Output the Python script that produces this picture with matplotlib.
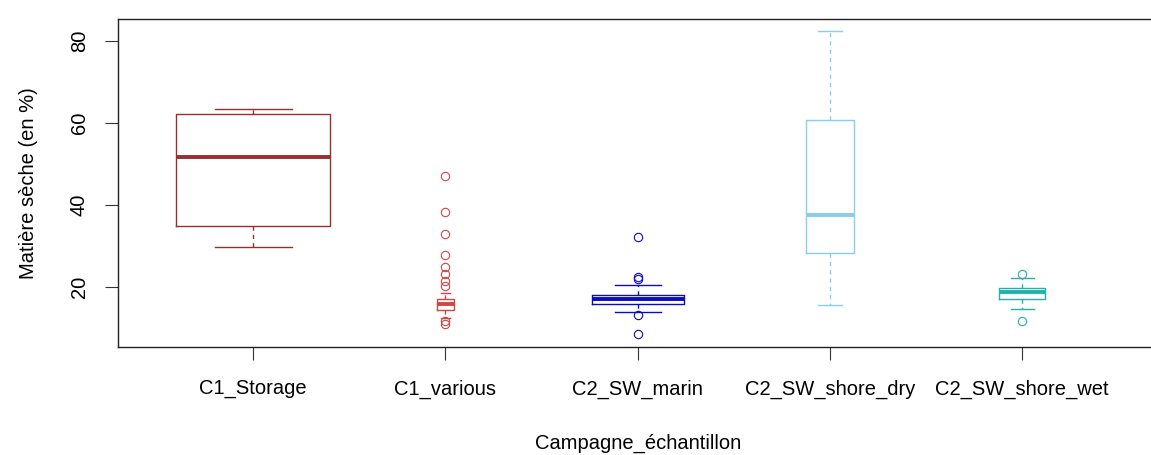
import matplotlib
matplotlib.use("Agg")
import matplotlib.pyplot as plt

# dry matter per sampling campaign, summary statistics read per group
groups = ["C1_Storage", "C1_various", "C2_SW_marin", "C2_SW_shore_dry", "C2_SW_shore_wet"]
q1 = [34.9, 14.4, 15.8, 28.2, 17.0]
med = [51.6, 15.8, 17.1, 37.6, 18.7]
q3 = [62.1, 17.0, 18.1, 60.7, 19.7]
whislo = [29.8, 12.4, 14.0, 15.6, 14.6]
whishi = [63.4, 18.5, 20.5, 82.5, 22.1]
fliers = [
    [],
    [47.1, 38.2, 32.9, 27.8, 24.8, 23.2, 21.5, 20.2, 11.6, 10.9],
    [32.2, 22.5, 22.0, 13.2, 8.5],
    [],
    [23.2, 11.8],
]

colors = ["#9A2E2E", "#D04646", "#0B0BC4", "#87CEEB", "#20B2AA"]
widths = [0.80, 0.09, 0.48, 0.245, 0.24]

plt.rcParams["font.family"] = ["Liberation Sans", "DejaVu Sans"]
FS = 14.5

fig = plt.figure(figsize=(11.51, 4.55), dpi=100)
ax = fig.add_axes([0.1029, 0.2374, 0.9022, 0.7215])

stats = []
for i, g in enumerate(groups):
    stats.append(dict(label=g, med=med[i], q1=q1[i], q3=q3[i],
                      whislo=whislo[i], whishi=whishi[i], fliers=fliers[i]))

for i, s in enumerate(stats):
    c = colors[i]
    ax.bxp([s], positions=[i + 1], widths=[widths[i]], capwidths=[widths[i] / 2],
           showfliers=True, manage_ticks=False,
           boxprops=dict(color=c, linewidth=1.0),
           medianprops=dict(color=c, linewidth=2.8, solid_capstyle="butt"),
           whiskerprops=dict(color=c, linewidth=1.0, linestyle=(0, (3, 3))),
           capprops=dict(color=c, linewidth=1.0),
           flierprops=dict(marker="o", markersize=6, markerfacecolor="none",
                           markeredgecolor=c, markeredgewidth=0.8, linestyle="none"))

ax.set_xlim(0.3, 5.7)
ax.set_ylim(5.37, 85.44)
ax.set_xticks(range(1, len(groups) + 1))
ax.set_xticklabels(groups, fontsize=FS)
ax.set_yticks([20, 40, 60, 80])
ax.set_yticklabels(["20", "40", "60", "80"], fontsize=FS)
plt.setp(ax.get_yticklabels(), rotation=90, va="center")

ax.tick_params(axis="both", length=9.4, width=0.8, color="#333333")
ax.tick_params(axis="x", pad=14)
ax.tick_params(axis="y", pad=12)
for sp in ax.spines.values():
    sp.set_linewidth(1.0)
    sp.set_color("#222222")

fig.text(638.5 / 1151, 1 - 443 / 455, "Campagne_échantillon", ha="center", va="center", fontsize=FS)
fig.text(29 / 1151, 1 - 183 / 455, "Matière sèche (en %)", ha="center", va="center",
         rotation=90, fontsize=FS)

fig.savefig("out.png", dpi=100)
